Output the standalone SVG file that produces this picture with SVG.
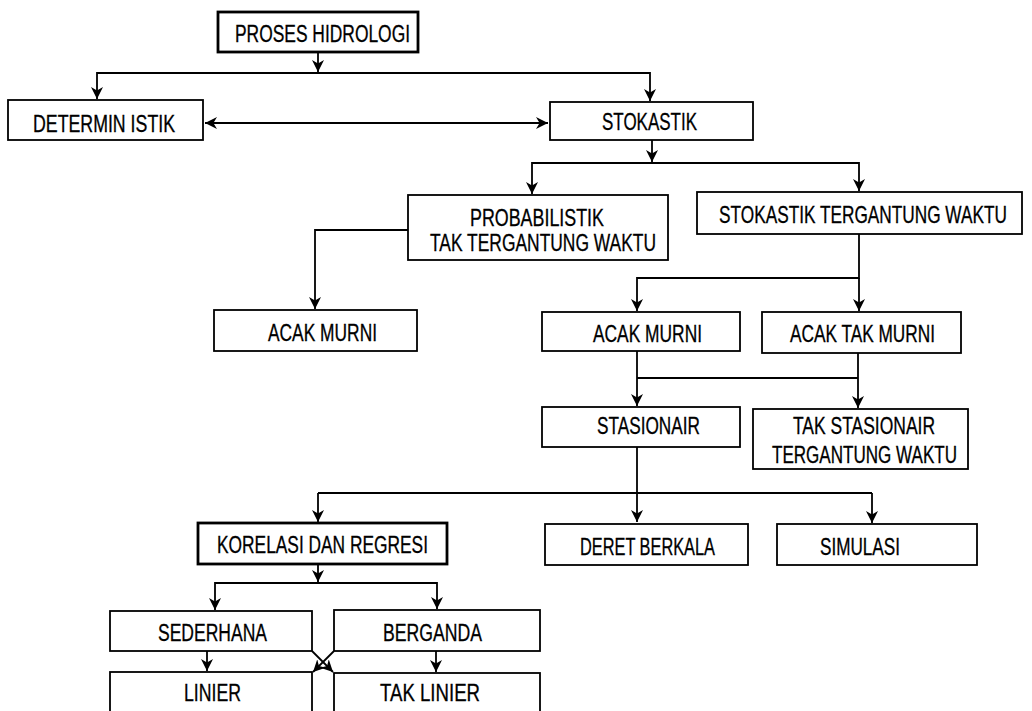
<svg xmlns="http://www.w3.org/2000/svg" width="1032" height="711" viewBox="0 0 1032 711">
<style>
  .box { fill: #ffffff; stroke: #000000; stroke-width: 1.8; }
  .thick { stroke-width: 2.8; }
  .lbl { font-family: "Liberation Sans", Arial, sans-serif; font-size: 23px; fill: #000000; stroke: #000000; stroke-width: 0.3; text-anchor: middle; }
  .con { fill: none; stroke: #000000; stroke-width: 1.8; }
  .arr { marker-end: url(#ah); }
</style>
<defs>
  <marker id="ah" viewBox="0 0 10 10" refX="10" refY="5" markerWidth="12" markerHeight="12" markerUnits="userSpaceOnUse" orient="auto-start-reverse">
    <path d="M0,0 L10,5 L0,10 L3,5 z" fill="#000000"/>
  </marker>
</defs>
<rect width="1032" height="711" fill="#ffffff"/>

<g id="connectors">
  <path class="con arr" d="M318,52 V72"/>
  <path class="con arr" d="M318,73 H97 V99"/>
  <path class="con arr" d="M318,73 H650 V101"/>
  <path class="con" d="M205,123 H548" marker-start="url(#ah)" marker-end="url(#ah)"/>
  <path class="con arr" d="M652,140 V162"/>
  <path class="con arr" d="M652,163 H532 V194"/>
  <path class="con arr" d="M652,163 H859 V191"/>
  <path class="con arr" d="M408,230 H315 V309"/>
  <path class="con arr" d="M859,234 V278 H637 V311"/>
  <path class="con arr" d="M859,278 V311"/>
  <path class="con arr" d="M637,351 V406"/>
  <path class="con arr" d="M858,353 V408"/>
  <path class="con" d="M637,378 H858"/>
  <path class="con arr" d="M637,447 V522"/>
  <path class="con" d="M318,493 H872"/>
  <path class="con arr" d="M318,493 V522"/>
  <path class="con arr" d="M872,493 V523"/>
  <path class="con arr" d="M318,564 V582"/>
  <path class="con arr" d="M318,583 H215 V610"/>
  <path class="con arr" d="M318,583 H437 V609"/>
  <path class="con arr" d="M207,651 V671"/>
  <path class="con arr" d="M436,651 V672"/>
  <path class="con arr" d="M312,651 L333,672"/>
  <path class="con arr" d="M334,651 L313,672"/>
</g>

<g id="proses-hidrologi">
  <rect class="box thick" x="218" y="12" width="200" height="40"/>
  <text class="lbl" x="322.5" y="42" textLength="175" lengthAdjust="spacingAndGlyphs">PROSES HIDROLOGI</text>
</g>
<g id="deterministik">
  <rect class="box" x="8" y="100" width="195" height="40"/>
  <text class="lbl" x="104" y="132" textLength="142" lengthAdjust="spacingAndGlyphs">DETERMIN ISTIK</text>
</g>
<g id="stokastik">
  <rect class="box" x="550" y="102" width="203" height="38"/>
  <text class="lbl" x="649.5" y="130" textLength="95" lengthAdjust="spacingAndGlyphs">STOKASTIK</text>
</g>
<g id="probabilistik">
  <rect class="box" x="408" y="195" width="260" height="65"/>
  <text class="lbl" x="537" y="226" textLength="134" lengthAdjust="spacingAndGlyphs">PROBABILISTIK</text>
  <text class="lbl" x="543" y="251" textLength="226" lengthAdjust="spacingAndGlyphs">TAK TERGANTUNG WAKTU</text>
</g>
<g id="stokastik-tergantung-waktu">
  <rect class="box" x="697" y="192" width="325" height="42"/>
  <text class="lbl" transform="translate(863 223) scale(0.75 1)" x="0" y="0">STOKASTIK TERGANTUNG WAKTU</text>
</g>
<g id="acak-murni-1">
  <rect class="box" x="214" y="310" width="203" height="41"/>
  <text class="lbl" x="322.5" y="341" textLength="109" lengthAdjust="spacingAndGlyphs">ACAK MURNI</text>
</g>
<g id="acak-murni-2">
  <rect class="box" x="542" y="312" width="198" height="39"/>
  <text class="lbl" x="647.5" y="342" textLength="109" lengthAdjust="spacingAndGlyphs">ACAK MURNI</text>
</g>
<g id="acak-tak-murni">
  <rect class="box" x="762" y="312" width="199" height="41"/>
  <text class="lbl" x="862.5" y="342" textLength="145" lengthAdjust="spacingAndGlyphs">ACAK TAK MURNI</text>
</g>
<g id="stasionair">
  <rect class="box" x="542" y="407" width="198" height="40"/>
  <text class="lbl" x="648.5" y="434" textLength="103" lengthAdjust="spacingAndGlyphs">STASIONAIR</text>
</g>
<g id="tak-stasionair">
  <rect class="box" x="753" y="409" width="215" height="60"/>
  <text class="lbl" x="864" y="434" textLength="142" lengthAdjust="spacingAndGlyphs">TAK STASIONAIR</text>
  <text class="lbl" x="864.5" y="463" textLength="185" lengthAdjust="spacingAndGlyphs">TERGANTUNG WAKTU</text>
</g>
<g id="korelasi-regresi">
  <rect class="box thick" x="198" y="523" width="249" height="41"/>
  <text class="lbl" x="322.5" y="553" textLength="211" lengthAdjust="spacingAndGlyphs">KORELASI DAN REGRESI</text>
</g>
<g id="deret-berkala">
  <rect class="box" x="545" y="524" width="203" height="41"/>
  <text class="lbl" x="647.5" y="555" textLength="135" lengthAdjust="spacingAndGlyphs">DERET BERKALA</text>
</g>
<g id="simulasi">
  <rect class="box" x="777" y="524" width="200" height="41"/>
  <text class="lbl" x="860" y="555" textLength="80" lengthAdjust="spacingAndGlyphs">SIMULASI</text>
</g>
<g id="sederhana">
  <rect class="box" x="110" y="611" width="202" height="40"/>
  <text class="lbl" x="212.5" y="641" textLength="109" lengthAdjust="spacingAndGlyphs">SEDERHANA</text>
</g>
<g id="berganda">
  <rect class="box" x="334" y="610" width="206" height="41"/>
  <text class="lbl" x="432.5" y="641" textLength="99" lengthAdjust="spacingAndGlyphs">BERGANDA</text>
</g>
<g id="linier">
  <rect class="box" x="110" y="672" width="202" height="42"/>
  <text class="lbl" x="212.5" y="701" textLength="57" lengthAdjust="spacingAndGlyphs">LINIER</text>
</g>
<g id="tak-linier">
  <rect class="box" x="334" y="673" width="206" height="41"/>
  <text class="lbl" x="430" y="701" textLength="100" lengthAdjust="spacingAndGlyphs">TAK LINIER</text>
</g>
</svg>
